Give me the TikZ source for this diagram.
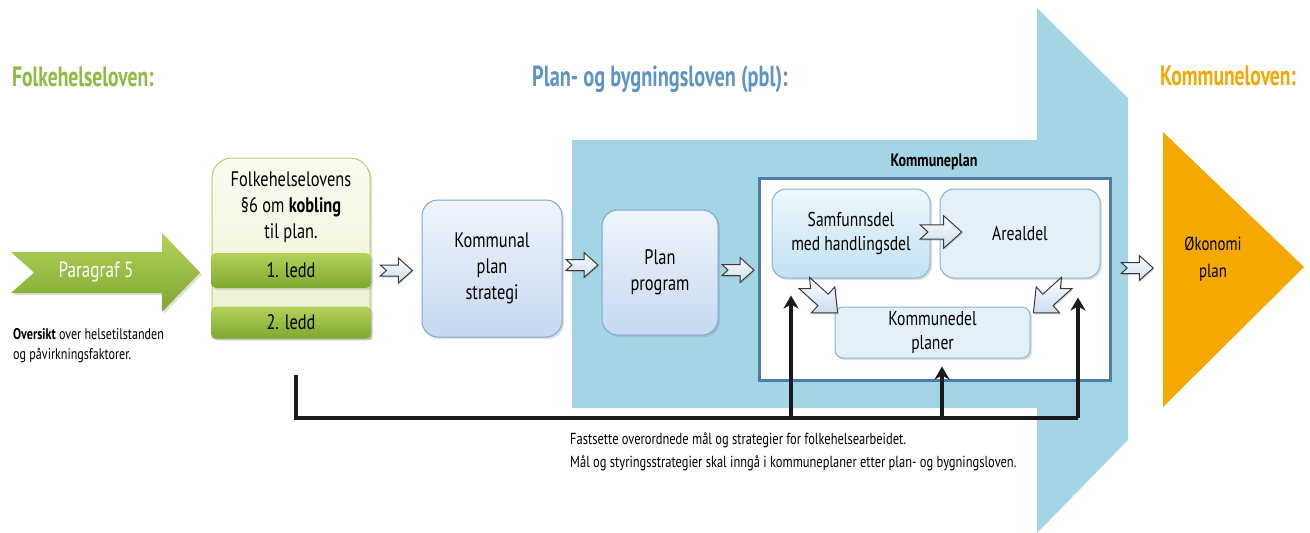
\documentclass[tikz,border=0pt]{standalone}
\usepackage{fontspec}
\setmainfont{PT Sans}[FakeStretch=0.78]
\newfontfamily\ttlfont{PT Sans}[FakeStretch=0.70]
\usetikzlibrary{arrows.meta,calc,shadows}
\definecolor{bgblue}{HTML}{A3D5E5}
\definecolor{fgreen}{HTML}{8DBA43}
\definecolor{pblue}{HTML}{5E93C6}
\definecolor{korange}{HTML}{F4A800}
\definecolor{kpedge}{HTML}{4F7BAA}
\definecolor{boxedge}{HTML}{7EA6D6}
\definecolor{boxtop}{HTML}{F0F5FC}
\definecolor{boxbot}{HTML}{C6D9F0}
\definecolor{sboxtop}{HTML}{EEF7FC}
\definecolor{sboxbot}{HTML}{C2E1F2}
\definecolor{sboxfill}{HTML}{E3F0F7}
\definecolor{sboxedge}{HTML}{86B3DA}
\definecolor{fhtop}{HTML}{FAFCF0}
\definecolor{fhbot}{HTML}{E8F0CF}
\definecolor{fhedge}{HTML}{B9D070}
\definecolor{leddtop}{HTML}{B3D25A}
\definecolor{leddbot}{HTML}{7FA82E}
\definecolor{arrfill}{HTML}{C9DDF0}
\definecolor{arredge}{HTML}{3A3A3A}
\definecolor{conncol}{HTML}{1A1A1A}
\tikzset{
  softshadow/.style={drop shadow={opacity=0.25, shadow xshift=2pt, shadow yshift=-2pt}},
  bluebox/.style={rounded corners=16pt, draw=boxedge, line width=1pt, top color=boxtop,
    bottom color=boxbot, align=center, font=\fontsize{21}{26}\selectfont, softshadow},
  sbox/.style={rounded corners=14pt, draw=sboxedge, line width=1pt, align=center,
    font=\fontsize{20}{24}\selectfont, softshadow},
  ledd/.style={rounded corners=5pt, top color=leddtop, bottom color=leddbot,
    minimum width=160pt, font=\fontsize{21}{26}\selectfont, softshadow},
  ttl/.style={font=\ttlfont\bfseries\fontsize{28}{32}\selectfont, inner sep=0pt},
  conn/.style={draw=conncol, line width=3.4pt},
  connarr/.style={conn, -{Stealth[length=13pt, width=15pt, inset=4pt]}},
  blockarr/.pic={
    \draw[draw=arredge, line width=1pt, line join=miter, top color=white,
      bottom color=arrfill, drop shadow={opacity=0.3, shadow xshift=1pt, shadow yshift=-1.5pt}]
      (-16,-5.5) -- (2,-5.5) -- (2,-12.5) -- (16,0) -- (2,12.5) -- (2,5.5) -- (-16,5.5) -- (-10,0) -- cycle;
  }
}
\begin{document}
\begin{tikzpicture}[x=1pt,y=-1pt]
\useasboundingbox (0,0) rectangle (1310,533);

% big blue background arrow
\fill[bgblue] (572,140) -- (1037,140) -- (1037,8) -- (1128,98) -- (1128,440)
  -- (1037,533) -- (1037,408) -- (572,408) -- cycle;

% titles
\node[ttl, text=fgreen, anchor=base west] (t1) at (12,86) {Folkehelseloven:};
\node[ttl, text=pblue, anchor=base west, font=\ttlfont\bfseries\fontsize{29}{32}\selectfont] (t2) at (532,86) {Plan- og bygningsloven (pbl):};
\node[ttl, text=korange, anchor=base west] (t3) at (1160,85) {Kommuneloven:};

% Paragraf 5 arrow
\draw[draw=none, top color=leddtop, bottom color=leddbot, softshadow]
  (11,252) -- (162,252) -- (162,233) -- (200,272.5) -- (162,312) -- (162,293)
  -- (11,293) -- (34,272.5) -- cycle;
\node[text=white, font=\fontsize{22}{26}\selectfont] (par) at (96,272) {Paragraf 5};
\node[anchor=base west, align=left, font=\fontsize{15.5}{20}\selectfont, inner sep=0pt] (ovs) at (13,359)
  {\textbf{Oversikt} over helsetilstanden\\og påvirkningsfaktorer.};

% Folkehelselovens box
\draw[draw=fhedge, line width=1pt, top color=fhtop, bottom color=fhbot, softshadow]
  (212,338) -- (212,178) arc[start angle=180, end angle=270, radius=20]
  -- (350,158) arc[start angle=270, end angle=360, radius=20] -- (370,338) -- cycle;
\node[align=center, font=\fontsize{21}{26}\selectfont] (fh) at (291,207)
  {Folkehelselovens\\§6 om \textbf{kobling}\\til plan.};
\node[ledd, minimum height=35pt] (l1) at (291,270.5) {1. ledd};
\node[ledd, minimum height=32pt] (l2) at (291,322.5) {2. ledd};

% main boxes
\node[bluebox, minimum width=140pt, minimum height=137pt] (ks) at (492,268.5)
  {Kommunal\\plan\\strategi};
\node[bluebox, minimum width=116pt, minimum height=125pt] (pp) at (660,272.5)
  {Plan\\program};

% Kommuneplan
\node[draw=kpedge, line width=3pt, fill=white, minimum width=351pt, minimum height=202pt] (kp) at (934.5,279) {};
\node[font=\bfseries\fontsize{18}{22}\selectfont] (kpl) at (934,162) {Kommuneplan};
\node[sbox, top color=sboxtop, bottom color=sboxbot, minimum width=158pt, minimum height=89pt] (sam) at (851,233.5)
  {Samfunnsdel\\med handlingsdel};
\node[sbox, fill=sboxfill, minimum width=160pt, minimum height=89pt] (are) at (1020,233.5) {Arealdel};
\node[sbox, fill=sboxfill, minimum width=195pt, minimum height=51pt, rounded corners=8pt] (kd) at (932.5,332.5)
  {Kommunedel\\planer};

% Okonomi plan
\fill[korange] (1163,132) -- (1304,267) -- (1163,407) -- cycle;
\coordinate (okw) at (1163,268);
\node[align=center, font=\fontsize{19}{27}\selectfont] (ok) at (1213,259) {Økonomi\\plan};

% block arrows
\pic at ($(l1.east)!0.5!(ks.west |- l1.east)$) {blockarr};
\pic at ($(ks.east |- 0,265)!0.5!(pp.west |- 0,265)$) {blockarr};
\pic at ($(pp.east |- 0,270)!0.5!(kp.west |- 0,270)$) {blockarr};
\pic at ($(kp.east |- okw)!0.5!(okw)$) {blockarr};
\pic[scale=1.3] at (941,232) {blockarr};
\pic[scale=1.4, rotate=-42] at (821,298) {blockarr};
\pic[scale=1.4, rotate=-138] at (1050,298) {blockarr};

% connectors
\coordinate (start) at (296,375);
\coordinate (j1) at (791,418);
\coordinate (j2) at (942,418);
\coordinate (j3) at (1078,418);
\draw[conn] (start) |- (j3);
\draw[connarr, shorten >=17pt] (j1) -- (j1 |- sam.south);
\draw[connarr, shorten >=19pt] (j3) -- (j3 |- are.south);
\draw[connarr, shorten >=8pt] (j2) -- (j2 |- kd.south);

\node[anchor=base west, align=left, font=\fontsize{16}{23}\selectfont, inner sep=0pt] (note) at (570,467)
  {Fastsette overordnede mål og strategier for folkehelsearbeidet.\\
   Mål og styringsstrategier skal inngå i kommuneplaner etter plan- og bygningsloven.};
\end{tikzpicture}
\end{document}
